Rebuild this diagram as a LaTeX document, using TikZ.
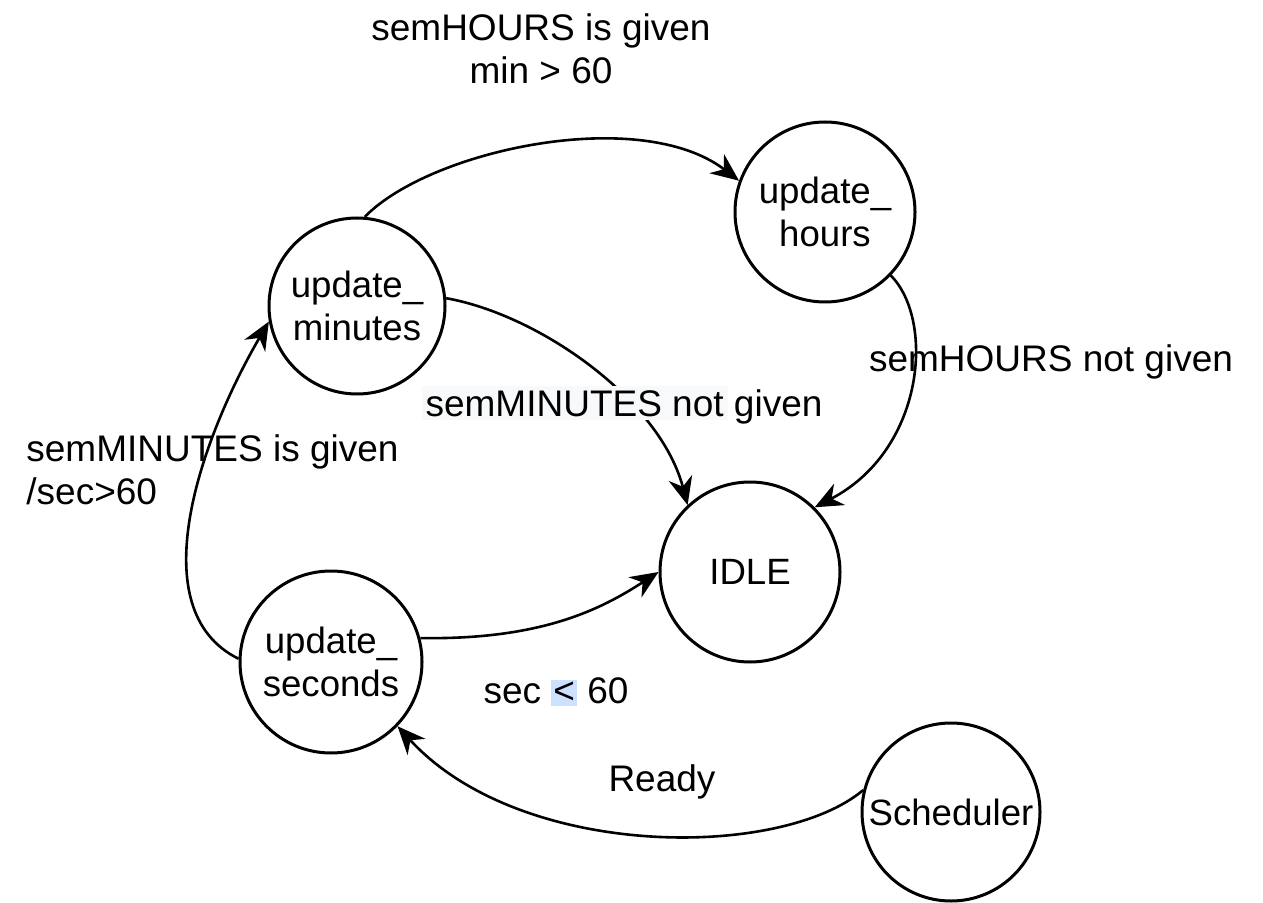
\documentclass[tikz,border=0pt]{standalone}
\usepackage{fontspec}
\setmainfont{Liberation Sans}
\usetikzlibrary{arrows.meta}
\definecolor{hlgray}{HTML}{F8F9FA}
\definecolor{hlblue}{HTML}{CCE0FF}
\tikzset{
  state/.style={circle, draw, line width=1.5pt, minimum size=#1, inner sep=0pt, align=center,
    font=\fontsize{18.3}{21.5}\selectfont},
  state/.default=89pt,
  conn/.style={line width=1.3pt, -{Stealth[length=14pt,width=12pt,inset=4.5pt]}},
  lbl/.style={inner sep=0pt, font=\fontsize{18.5}{21.5}\selectfont}
}
\begin{document}
\begin{tikzpicture}[x=0.5pt,y=-0.5pt]
\useasboundingbox (0,0) rectangle (1263,903);
\node[state=88pt] (m) at (357,306) {update\_\\minutes};
\node[state=90pt] (h) at (825,212) {update\_\\hours};
\node[state=90pt] (i) at (750,572) {IDLE};
\node[state=91pt] (s) at (331,662) {update\_\\seconds};
\node[state=89pt] (c) at (951,812) {Scheduler};

\draw[conn] (m.85) .. controls (430,150) and (640,105) .. (h.160);
\draw[conn] (m.5) .. controls (540,315) and (660,400) .. (i.133);
\draw[conn] (h.-44) .. controls (935,320) and (925,450) .. (i.45);
\draw[conn] (s.15) .. controls (540,640) and (600,610) .. (i.180);
\draw[conn] (s.178) .. controls (140,610) and (200,440) .. (m.190);
\draw[conn] (c.166) .. controls (780,860) and (520,860) .. (s.-44);

\node[lbl, align=center] (l1) at (541,49) {semHOURS is given\\min > 60};
\node[lbl] (l2) at (622,405) {{\setlength\fboxsep{2pt}\colorbox{hlgray}{semMINUTES not}}\hspace{-2pt} given};
\node[lbl] (l3) at (1051,362) {semHOURS not given};
\node[lbl, align=left, anchor=west] (l4) at (26,470) {semMINUTES is given\\/sec>60};
\node[lbl] (l5) at (556,692) {sec {\setlength\fboxsep{1pt}\colorbox{hlblue}{<}} 60};
\node[lbl] (l6) at (662,782) {Ready};
\end{tikzpicture}
\end{document}
